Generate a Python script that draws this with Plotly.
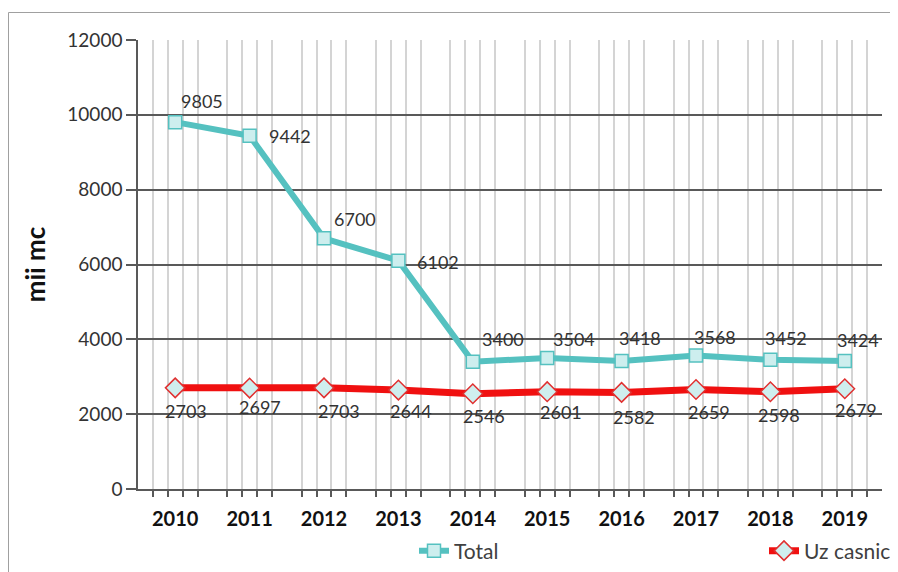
import plotly.graph_objects as go

years = [2010, 2011, 2012, 2013, 2014, 2015, 2016, 2017, 2018, 2019]
total = [9805, 9442, 6700, 6102, 3400, 3504, 3418, 3568, 3452, 3424]
uz_casnic = [2703, 2697, 2703, 2644, 2546, 2601, 2582, 2659, 2598, 2679]
y_ticks = [0, 2000, 4000, 6000, 8000, 10000, 12000]

# label offsets in pixels (styling)
total_dx = [27, 40, 31, 40, 30, 27, 18, 19, 16, 13]
total_dy = [21, 0, 19, -1, 23, 19, 23, 19, 22, 21]
uz_dx = [11, 10, 15, 13, 11, 14, 12, 13, 9, 11]
uz_dy = [-23, -19, -23, -21, -22, -20, -25, -22, -23, -21]

FONT = "Lato"
TEAL = "#55c1c0"
RED = "#f01010"

grid_x = [y + d for y in years for d in (-0.3, -0.1, 0.1, 0.3)]

OFF = 8  # page body margin
W, H = 898, 572
# plot area in screen pixels: x 138..882, y 40..489
L, R, T, B = 138 - OFF, W - (882 - OFF), 40 - OFF, H - (489 - OFF)
pw, ph = W - L - R, H - T - B

def px(xs):
    return (xs - OFF - L) / pw

def py(ys):
    return (H - B - (ys - OFF)) / ph

fig = go.Figure()
fig.add_trace(go.Scatter(
    x=years, y=total, name="Total", mode="lines+markers", legend="legend",
    line=dict(color=TEAL, width=6),
    marker=dict(symbol="square", size=13, color="#cdeeee",
                line=dict(color=TEAL, width=1.5)),
))
fig.add_trace(go.Scatter(
    x=years, y=uz_casnic, name="Uz casnic", mode="lines+markers", legend="legend2",
    line=dict(color=RED, width=7),
    marker=dict(symbol="diamond", size=15, color="#cfeeee",
                line=dict(color="#e03030", width=1.5)),
))
# invisible trace on xaxis2 so that the year axis renders
fig.add_trace(go.Scatter(x=years, y=total, xaxis="x2", mode="markers",
                         marker=dict(opacity=0), showlegend=False, hoverinfo="skip"))

ann = []
for x, v, dx, dy in zip(years, total, total_dx, total_dy):
    ann.append(dict(x=x, y=v, text=str(v), showarrow=False, xshift=dx, yshift=dy,
                    font=dict(family=FONT, size=18, color="#333333")))
for x, v, dx, dy in zip(years, uz_casnic, uz_dx, uz_dy):
    ann.append(dict(x=x, y=v, text=str(v), showarrow=False, xshift=dx, yshift=dy,
                    font=dict(family=FONT, size=18, color="#333333")))

leg_common = dict(orientation="h", yanchor="middle", xanchor="left",
                  font=dict(family=FONT, size=21, color="#404040"),
                  bgcolor="rgba(0,0,0,0)")

fig.update_layout(
    width=W, height=H,
    margin=dict(l=L, r=R, t=T, b=B, autoexpand=False),
    paper_bgcolor="white", plot_bgcolor="white",
    font=dict(family=FONT, color="#333333"),
    annotations=ann,
    showlegend=True,
    legend=dict(x=px(414), y=py(551), **leg_common),
    legend2=dict(x=px(764), y=py(551), **leg_common),
    xaxis=dict(range=[2009.5, 2019.5], tickvals=grid_x, ticktext=[""] * len(grid_x),
               showgrid=True, gridcolor="#d4d4d4", gridwidth=1.5,
               ticks="outside", ticklen=6, tickwidth=1.5, tickcolor="#595959",
               showline=True, linecolor="#595959", linewidth=1.5, zeroline=False),
    xaxis2=dict(range=[2009.5, 2019.5], overlaying="x", anchor="y", side="bottom",
                tickvals=years, ticktext=[str(y) for y in years],
                showgrid=False, ticks="", showline=False, zeroline=False,
                ticklabelstandoff=16,
                tickfont=dict(family=FONT, size=20, color="#111111", weight="bold")),
    yaxis=dict(range=[0, 12000], tickvals=y_ticks, ticktext=[str(v) for v in y_ticks],
               showgrid=True, gridcolor="#595959", gridwidth=1.5,
               ticks="outside", ticklen=10, tickwidth=1.5, tickcolor="#595959",
               showline=True, linecolor="#595959", linewidth=1.5, zeroline=False,
               tickfont=dict(family=FONT, size=19, color="#333333"),
               title=dict(text="<b>mii mc</b>", standoff=14,
                          font=dict(family=FONT, size=26, color="#111111"))),
    shapes=[dict(type="rect", xref="paper", yref="paper",
                 x0=px(8.5), x1=px(930), y0=py(600), y1=py(12.5),
                 line=dict(color="#a0a0a0", width=1), fillcolor="rgba(0,0,0,0)",
                 layer="below")],
)

fig.write_html("out.html")
